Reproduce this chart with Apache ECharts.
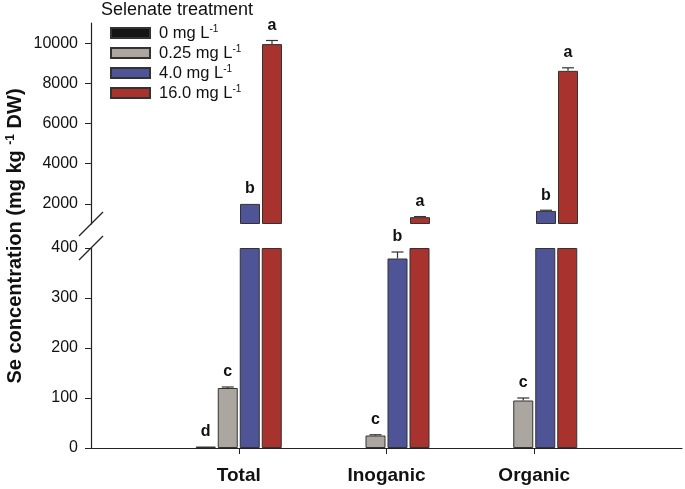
<!DOCTYPE html>
<html><head><meta charset="utf-8">
<script src="https://cdn.jsdelivr.net/npm/echarts@6/dist/echarts.min.js"></script>
<style>html,body{margin:0;padding:0;background:#fff}#c{width:685px;height:489px}</style>
</head><body><div id="c"></div>
<script>
// ---- data ----
const categories = ['Total', 'Inoganic', 'Organic'];
const levels = ['0 mg L-1', '0.25 mg L-1', '4.0 mg L-1', '16.0 mg L-1'];
const se0 = [3, 0, 0];
const se025 = [120, 25, 95];
const se4 = [2000, 379, 1650];
const se16 = [9950, 1340, 8620];
const err0 = [0, 0, 0];
const err025 = [2, 1.5, 5];
const err4 = [15, 13, 35];
const err16 = [180, 30, 150];
const let0 = ['d', '', ''];
const let025 = ['c', 'c', 'c'];
const let4 = ['b', 'b', 'b'];
const let16 = ['a', 'a', 'a'];
const lowerTicks = [0, 100, 200, 300, 400];
const upperTicks = [2000, 4000, 6000, 8000, 10000];
const LOWER_MAX = 400;
const UPPER_MIN = 1000;
const UPPER_MAX = 11000;

// ---- style ----
const F = '"Liberation Sans", Arial, sans-serif';
const colors = ['#151515', '#aca6a1', '#4f5496', '#a8322d'];
const BAR_W = 20, GAP = 2;
const slotOffset = [0, 1, 2, 3].map(i => (i - 1.5) * (BAR_W + GAP));
const INK = '#222';

const vals = [se0, se025, se4, se16];
const errs = [err0, err025, err4, err16];
const lets = [let0, let025, let4, let16];
const xCats = [''].concat(categories, ['']);
const pad = arr => ['-'].concat(arr, ['-']);

const series = [];
vals.forEach((v, k) => {
  series.push({
    type: 'bar', name: levels[k], xAxisIndex: 0, yAxisIndex: 0,
    barWidth: BAR_W, barGap: (GAP / BAR_W * 100) + '%',
    itemStyle: { color: colors[k], borderColor: '#333', borderWidth: 1 },
    data: pad(v.map(x => x > 0 ? Math.min(x, LOWER_MAX) : '-'))
  });
});
vals.forEach((v, k) => {
  series.push({
    type: 'bar', name: 'base' + k, stack: 'u' + k, xAxisIndex: 1, yAxisIndex: 1,
    barWidth: BAR_W, barGap: (GAP / BAR_W * 100) + '%', silent: true,
    itemStyle: { color: 'rgba(0,0,0,0)', borderWidth: 0 },
    data: pad(v.map(x => x > UPPER_MIN ? UPPER_MIN : '-'))
  });
  series.push({
    type: 'bar', name: levels[k], stack: 'u' + k, xAxisIndex: 1, yAxisIndex: 1,
    barWidth: BAR_W, barGap: (GAP / BAR_W * 100) + '%',
    itemStyle: { color: colors[k], borderColor: '#333', borderWidth: 1 },
    data: pad(v.map(x => x > UPPER_MIN ? x - UPPER_MIN : '-'))
  });
});

function buildErr(pred) {
  const data = [], letters = [];
  vals.forEach((v, k) => v.forEach((x, c) => {
    if (pred(x)) { data.push([c + 1, x, x + errs[k][c], k]); letters.push(lets[k][c]); }
  }));
  return { data, letters };
}
function errSeries(sel, xi, yi) {
  return {
    type: 'custom', xAxisIndex: xi, yAxisIndex: yi, z: 10, silent: true,
    encode: { x: 0, y: [1, 2] },
    data: sel.data,
    renderItem: function (params, api) {
      const base = api.coord([api.value(0), api.value(1)]);
      const top = api.coord([api.value(0), api.value(2)]);
      const x = base[0] + slotOffset[api.value(3)];
      const ch = [];
      const st = { stroke: '#333', lineWidth: 1.2 };
      if (top[1] < base[1] - 0.5) {
        ch.push({ type: 'line', shape: { x1: x, y1: base[1], x2: x, y2: top[1] }, style: st });
        ch.push({ type: 'line', shape: { x1: x - 6, y1: top[1], x2: x + 6, y2: top[1] }, style: st });
      }
      const L = sel.letters[params.dataIndex];
      if (L) {
        ch.push({ type: 'text', x: x, y: top[1] - 15,
          style: { text: L, fill: '#111', fontSize: 16, fontWeight: 'bold', fontFamily: F,
                   align: 'center', verticalAlign: 'middle', textAlign: 'center', textVerticalAlign: 'middle' } });
      }
      return { type: 'group', children: ch };
    }
  };
}
series.push(errSeries(buildErr(x => x <= LOWER_MAX), 0, 0));
series.push(errSeries(buildErr(x => x > UPPER_MIN), 1, 1));

const chart = echarts.init(document.getElementById('c'), null, { renderer: 'canvas' });
chart.setOption({
  animation: false,
  backgroundColor: '#fff',
  title: { text: 'Selenate treatment', left: 101, top: 1, padding: 0,
    textStyle: { fontSize: 18, fontWeight: 'normal', color: '#111', fontFamily: F } },
  legend: {
    data: levels, orient: 'vertical', left: 110, top: 24, padding: 0,
    itemWidth: 39, itemHeight: 10, itemGap: 2, icon: 'rect',
    formatter: n => n.replace('-1', '') + '{s|-1}',
    textStyle: { fontSize: 16.5, color: '#111', fontFamily: F, lineHeight: 18, padding: [0, 0, 0, 4],
      rich: { s: { fontSize: 10, color: '#111', fontFamily: F, verticalAlign: 'top', lineHeight: 12 } } }
  },
  grid: [
    { left: 91, right: 2, top: 248, height: 200 },
    { left: 91, right: 2, top: 23, height: 201 }
  ],
  xAxis: [
    { type: 'category', gridIndex: 0, data: xCats, boundaryGap: false,
      axisLine: { lineStyle: { color: INK, width: 1.2 } },
      axisTick: { length: 6, interval: (i) => i >= 1 && i <= categories.length, lineStyle: { color: INK } },
      axisLabel: { interval: 0, margin: 18, fontSize: 19, fontWeight: 'bold', color: '#111', fontFamily: F } },
    { type: 'category', gridIndex: 1, data: xCats, boundaryGap: false, show: false }
  ],
  yAxis: [
    { type: 'value', gridIndex: 0, min: lowerTicks[0], max: LOWER_MAX, interval: 100,
      splitLine: { show: false },
      axisLine: { show: true, lineStyle: { color: INK, width: 1.2 } },
      axisTick: { show: true, length: 6, lineStyle: { color: INK } },
      axisLabel: { margin: 13, fontSize: 16, color: '#111', fontFamily: F, formatter: v => String(v) } },
    { type: 'value', gridIndex: 1, min: UPPER_MIN, max: UPPER_MAX,
      splitLine: { show: false },
      axisLine: { show: true, lineStyle: { color: INK, width: 1.2 } },
      axisTick: { show: true, length: 6, customValues: upperTicks, lineStyle: { color: INK } },
      axisLabel: { margin: 13, fontSize: 16, color: '#111', fontFamily: F, customValues: upperTicks,
        formatter: v => String(v) } }
  ],
  graphic: [
    { type: 'text', x: 15, y: 236, rotation: Math.PI / 2,
      style: { text: 'Se concentration (mg kg {s|-1} DW)', fill: '#111', fontSize: 20, fontWeight: 'bold', fontFamily: F,
        align: 'center', verticalAlign: 'middle', textAlign: 'center', textVerticalAlign: 'middle',
        rich: { s: { fontSize: 12, fontWeight: 'bold', fontFamily: F, fill: '#111', verticalAlign: 'top', lineHeight: 14 } } } },
    { type: 'line', shape: { x1: 79, y1: 236, x2: 103, y2: 212 }, style: { stroke: INK, lineWidth: 1.2 } },
    { type: 'line', shape: { x1: 79, y1: 260, x2: 103, y2: 236 }, style: { stroke: INK, lineWidth: 1.2 } }
  ],
  series: series
});
</script></body></html>
